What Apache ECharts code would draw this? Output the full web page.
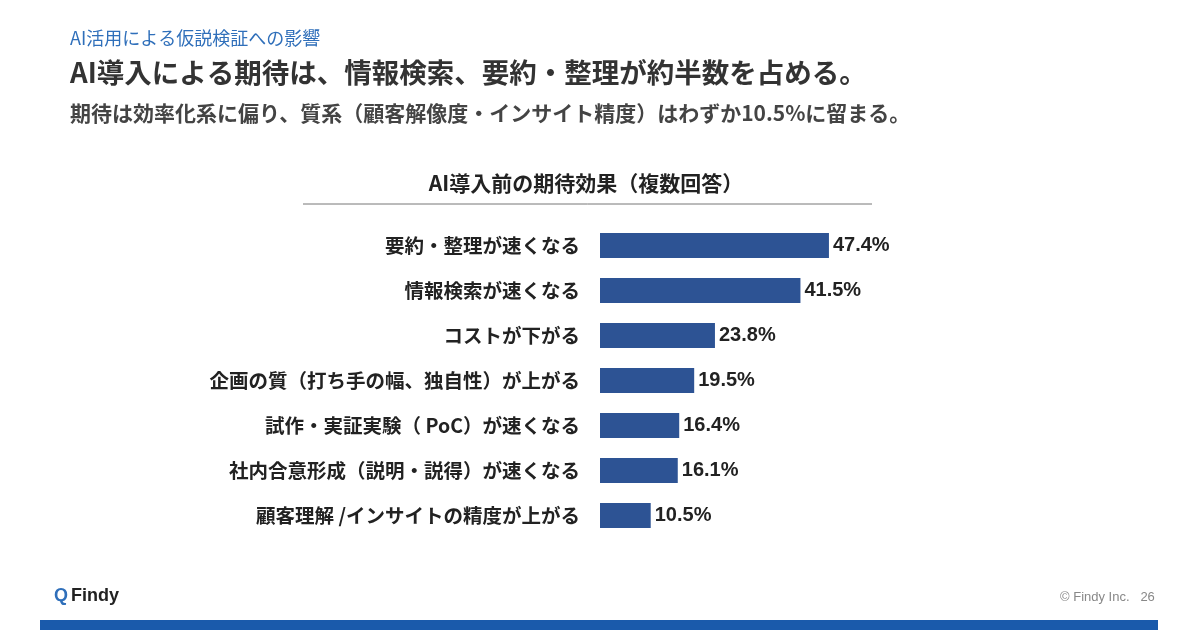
<!DOCTYPE html>
<html>
<head>
<meta charset="utf-8">
<script src="https://cdn.jsdelivr.net/npm/echarts@6/dist/echarts.min.js"></script>
<style>
html, body { margin: 0; padding: 0; background: #fff; }
#main { width: 1200px; height: 630px; }
</style>
</head>
<body>
<div id="main"></div>
<script>
var categories = [
    '要約・整理が速くなる',
    '情報検索が速くなる',
    'コストが下がる',
    '企画の質（打ち手の幅、独自性）が上がる',
    '試作・実証実験（ PoC）が速くなる',
    '社内合意形成（説明・説得）が速くなる',
    '顧客理解 /インサイトの精度が上がる'
];
var values = [47.4, 41.5, 23.8, 19.5, 16.4, 16.1, 10.5];

var jpFont = '"Noto Sans CJK JP", "Noto Sans", sans-serif';
var numFont = '"Liberation Sans", Arial, sans-serif';

var dom = document.getElementById('main');
var myChart = echarts.init(dom);
var option = {
    backgroundColor: '#fff',
    animation: false,
    grid: {
        left: 600,
        top: 223,
        width: 241.5,
        height: 315
    },
    xAxis: {
        type: 'value',
        min: 0,
        max: 50,
        show: false
    },
    yAxis: {
        type: 'category',
        inverse: true,
        data: categories,
        axisLine: { show: false },
        axisTick: { show: false },
        axisLabel: {
            margin: 20,
            color: '#222',
            fontSize: 19.5,
            fontWeight: 'bold',
            fontFamily: jpFont
        }
    },
    series: [{
        type: 'bar',
        data: values,
        barWidth: 25,
        itemStyle: { color: '#2d5394' },
        label: {
            show: true,
            position: 'right',
            distance: 4,
            formatter: '{c}%',
            color: '#222',
            fontSize: 20,
            fontWeight: 'bold',
            fontFamily: numFont
        }
    }],
    graphic: [
        { type: 'text', left: 70, top: 29, style: { text: 'AI活用による仮説検証への影響', fill: '#2f6fba', font: '18px ' + jpFont } },
        { type: 'text', left: 70, top: 59, style: { text: 'AI導入による期待は、情報検索、要約・整理が約半数を占める。', fill: '#333', font: 'bold 27.5px ' + jpFont } },
        { type: 'text', left: 70, top: 103, style: { text: '期待は効率化系に偏り、質系（顧客解像度・インサイト精度）はわずか10.5%に留まる。', fill: '#444', font: 'bold 21px ' + jpFont } },
        { type: 'text', x: 586, y: 183, style: { text: 'AI導入前の期待効果（複数回答）', fill: '#222', font: 'bold 21px ' + jpFont, align: 'center', verticalAlign: 'middle' } },
        { type: 'line', shape: { x1: 303, y1: 204, x2: 872, y2: 204 }, style: { stroke: '#777', lineWidth: 1 } },
        { type: 'text', left: 54, top: 587, style: { text: 'Q', fill: '#2f6fba', font: 'bold 18px ' + numFont } },
        { type: 'text', left: 71, top: 587, style: { text: 'Findy', fill: '#222', font: 'bold 18px ' + numFont } },
        { type: 'text', left: 1060, top: 591, style: { text: '© Findy Inc.   26', fill: '#888', font: '13px ' + numFont } },
        { type: 'rect', shape: { x: 40, y: 620, width: 1118, height: 10 }, style: { fill: '#1a5aab' } }
    ]
};
myChart.setOption(option, true);
</script>
</body>
</html>
